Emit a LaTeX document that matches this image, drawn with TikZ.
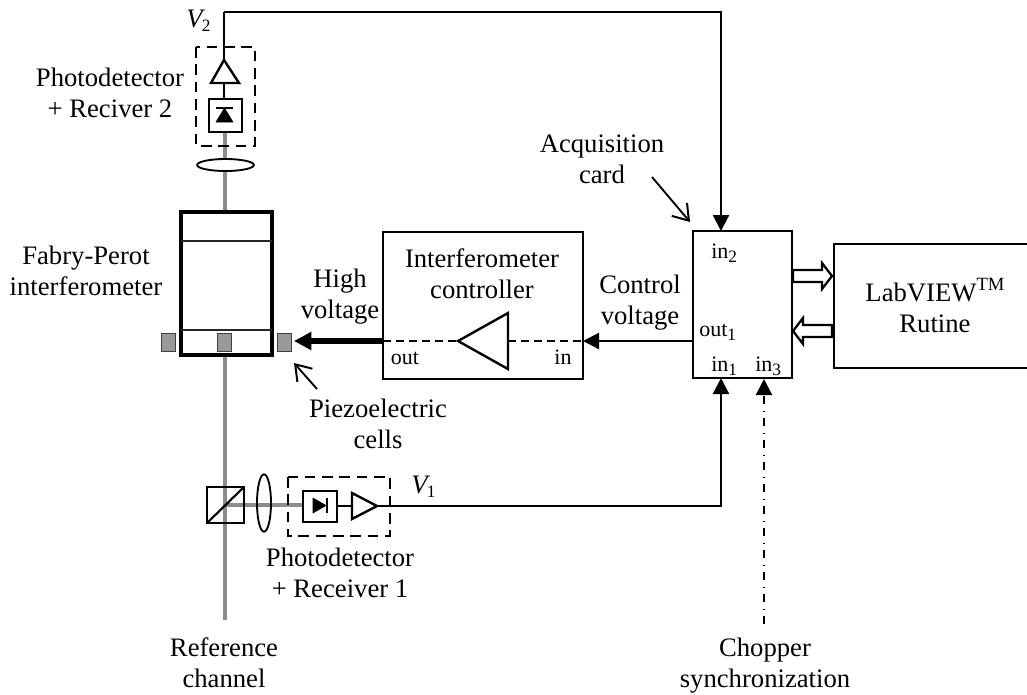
\documentclass[tikz,border=0pt]{standalone}
\usepackage{fontspec}
\setmainfont{Liberation Serif}
\usetikzlibrary{arrows.meta,shapes.geometric}
\definecolor{beam}{HTML}{8C8C8C}
\definecolor{cell}{HTML}{999999}
\newcommand{\lowidx}[1]{\raisebox{-3.2pt}{\fontsize{13pt}{13pt}\selectfont #1}}
\tikzset{
 x=0.75pt,y=-0.75pt,
 txt/.style={font=\fontsize{20pt}{23pt}\selectfont,align=center,inner sep=0pt,anchor=base},
 port/.style={font=\fontsize{16.5pt}{18pt}\selectfont,inner sep=0pt,anchor=base},
 beamline/.style={draw=beam,line width=3pt},
 wire/.style={draw=black,line width=1.7pt},
 box/.style={draw=black,line width=1.6pt,fill=white,outer sep=0pt,inner sep=0pt},
 dashbox/.style={draw=black,line width=1.3pt,dash pattern=on 8pt off 5pt},
 amp/.style={draw=black,line width=1.8pt,fill=white,line join=miter},
 solidtip/.style={-{Triangle[length=12pt,width=12pt]}},
 opentip/.style={-{Straight Barb[length=11pt,width=15pt,line width=1.5pt]}},
 cellbox/.style={draw=black!75,line width=0.9pt,fill=cell,minimum width=11pt,minimum height=14pt,inner sep=0pt},
 hollow/.style={draw=black,line width=1.7pt,fill=white,line join=miter},
}
\begin{document}
\begin{tikzpicture}
\useasboundingbox (0,0) rectangle (1027,694);
% beams
\coordinate (bsT) at (224.5,357);
\coordinate (bsB) at (224.5,620);
\coordinate (fpT) at (224.5,211);
\coordinate (pdT) at (224.5,132);
\draw[beamline] (pdT) -- (fpT);
\draw[beamline] (bsT) -- (bsB);
% lens top
\node[draw=black,line width=1.4pt,fill=white,ellipse,minimum width=42.5pt,minimum height=9pt,inner sep=0pt] (lensT) at (225.5,165) {};
% FP
\node[box,line width=3pt,minimum width=68.25pt,minimum height=107.25pt,anchor=north west] (fp) at (181,212) {};
\coordinate (fpL1) at (181,241); \coordinate (fpR1) at (272,241);
\coordinate (fpL2) at (181,330); \coordinate (fpR2) at (272,330);
\draw[line width=1.2pt,draw=black!85] (fpL1) -- (fpR1);
\draw[line width=1.2pt,draw=black!85] (fpL2) -- (fpR2);
\node[cellbox] (c1) at (168.5,342.5) {};
\node[cellbox] (c2) at (224.5,342.5) {};
\node[cellbox] (c3) at (284.5,342.5) {};
% top detector
\draw[dashbox] (196,47) rectangle (255,146);
\node[box,line width=2pt,minimum width=24.75pt,minimum height=24.75pt] (pd2) at (225.5,115.5) {};
\draw[fill=black] (216,122) -- (233,122) -- (224.5,108) -- cycle;
\draw[line width=1.5pt] (216,108) -- (233,108);
\coordinate (a2tip) at (224,60);
\coordinate (a2L) at (211,83);
\coordinate (a2R) at (239,83);
\draw[wire] (pd2.north -| a2tip) -- (a2L -| a2tip);
\draw[amp] (a2tip) -- (a2R) -- (a2L) -- cycle;
% controller
\node[box,minimum width=150pt,minimum height=110.25pt,anchor=north west] (ctrl) at (383,232) {};
\coordinate (ctrlL) at (383,341);
\coordinate (ctrlR) at (583,341);
\coordinate (ampTip) at (458,341);
\coordinate (ampBase) at (508,341);
\draw[line width=1.4pt,dash pattern=on 6pt off 3.7pt] (ctrlL) -- (ampTip);
\draw[line width=1.4pt,dash pattern=on 6pt off 3.7pt] (ampBase) -- (ctrlR);
\draw[amp] (458,341) -- (508,313) -- (508,369) -- cycle;
% card
\node[box,minimum width=74.25pt,minimum height=110.25pt,anchor=north west] (card) at (693,231) {};
\node[box,minimum width=200pt,minimum height=93pt,anchor=north west] (lab) at (834,244) {};
% arrows
\coordinate (hvEnd) at (294,341);
\draw[line width=4.5pt,-{Triangle[length=13pt,width=13pt]}] (ctrlL) -- (hvEnd);
\coordinate (cardOut) at (693,341);
\draw[wire,solidtip] (cardOut) -- (ctrlR);
\coordinate (v2c) at (224,12);
\coordinate (in2) at (721,231);
\draw[wire] (a2tip) -- (v2c);
\draw[wire,solidtip] (v2c) -| (in2);
% bottom stage
\coordinate (bsC) at (224.5,505);
\draw[beamline] (bsC) -- (303,505);
\draw[line width=1.6pt] (207,487) rectangle (244,523);
\draw[line width=1.6pt] (207,523) -- (244,487);
\node[draw=black,line width=1.4pt,ellipse,minimum width=10.5pt,minimum height=43pt,inner sep=0pt] (lensB) at (264,503) {};
\draw[dashbox] (288,477) rectangle (390,536);
\node[box,line width=2pt,minimum width=25.5pt,minimum height=23.25pt] (pd1) at (320,506.5) {};
\draw[fill=black] (313,498) -- (313,513) -- (326,505.5) -- cycle;
\draw[line width=1.5pt] (327,498) -- (327,513);
\coordinate (a1base) at (352,506);
\coordinate (a1tip) at (377,506);
\draw[wire] (pd1.east |- a1base) -- (a1base);
\coordinate (in1) at (721,378);
\draw[wire,solidtip] (a1tip) -| (in1);
\draw[amp] (377,506) -- (352,493) -- (352,519) -- cycle;
% chopper
\coordinate (chop) at (764,624);
\coordinate (in3) at (764,379);
\draw[line width=1.6pt,dash pattern=on 6pt off 4.5pt on 1pt off 5pt,-{Triangle[length=12pt,width=12pt]}] (chop) -- (in3);
% double arrows
\draw[hollow] (793,270) -- (822,270) -- (822,263) -- (832,276) -- (822,289) -- (822,282) -- (793,282) -- cycle;
\draw[hollow] (832,325) -- (803,325) -- (803,318) -- (793,331) -- (803,344) -- (803,337) -- (832,337) -- cycle;
% pointers
\coordinate (pzS) at (317,389); \coordinate (pzE) at (294,363);
\draw[line width=1.4pt,opentip] (pzS) -- (pzE);
\coordinate (acS) at (652,177); \coordinate (acE) at (690,222);
\draw[line width=1.4pt,opentip] (acS) -- (acE);
% text
\node[txt,anchor=base west] (tV2) at (186,27) {\textit{V}\kern-2.5pt\lowidx{2}};
\node[txt] (tPD2) at (110,117) {Photodetector\\+ Reciver 2};
\node[txt] (tFP) at (86,295) {Fabry-Perot\\interferometer};
\node[txt] (tHV) at (340,318) {High\\voltage};
\node[txt] (tIC) at (482,298) {Interferometer\\controller};
\node[port] (tOut) at (405,364) {out};
\node[port] (tIn) at (563,364) {in};
\node[txt] (tCV) at (640,324) {Control\\voltage};
\node[txt] (tAC) at (602,183) {Acquisition\\card};
\node[port,anchor=base west] (tin2) at (711,258) {in\lowidx{2}};
\node[port,anchor=base west] (tout1) at (699,336) {out\lowidx{1}};
\node[port,anchor=base west] (tin1) at (711,371) {in\lowidx{1}};
\node[port,anchor=base west] (tin3) at (755,371) {in\lowidx{3}};
\node[txt] (tLV) at (935,332) {LabVIEW\raisebox{8pt}{\fontsize{14pt}{14pt}\selectfont TM}\\Rutine};
\node[txt] (tPZ) at (378,448) {Piezoelectric\\cells};
\node[txt,anchor=base west] (tV1) at (411,493) {\textit{V}\kern-2.5pt\lowidx{1}};
\node[txt] (tPD1) at (340,597) {Photodetector\\+ Receiver 1};
\node[txt] (tRC) at (224,687) {Reference\\channel};
\node[txt] (tCS) at (765,687) {Chopper\\synchronization};
\end{tikzpicture}
\end{document}
